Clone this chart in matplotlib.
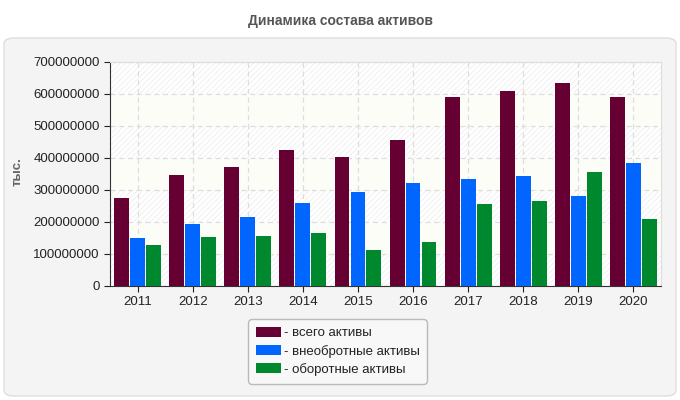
import matplotlib.pyplot as plt
import numpy as np
from matplotlib.patches import FancyBboxPatch, Rectangle

plt.rcParams['font.family'] = ['Liberation Sans', 'DejaVu Sans']
plt.rcParams['hatch.linewidth'] = 0.6

years = ['2011', '2012', '2013', '2014', '2015', '2016', '2017', '2018', '2019', '2020']
total = [275e6, 347e6, 372e6, 425e6, 403e6, 456e6, 590e6, 609e6, 634e6, 590e6]
noncurrent = [150e6, 194e6, 216e6, 259e6, 294e6, 322e6, 334e6, 344e6, 281e6, 384e6]
current = [128e6, 153e6, 156e6, 166e6, 112e6, 137e6, 256e6, 266e6, 356e6, 209e6]
labels = ['- всего активы', '- внеобротные активы', '- оборотные активы']
colors = ['#660033', '#0066ff', '#00882f']

fig = plt.figure(figsize=(6.8, 4.0), dpi=100)
fig.patch.set_facecolor('white')

# outer rounded panel
panel = FancyBboxPatch((4 / 680, 4 / 400), 672 / 680, 358 / 400,
                       boxstyle='round,pad=0,rounding_size=0.015',
                       transform=fig.transFigure, facecolor='#f4f4f4',
                       edgecolor='#dedede', linewidth=1, zorder=-10)
fig.patches.append(panel)

fig.text(0.5, 1 - 21 / 400, 'Динамика состава активов', ha='center', va='center',
         fontsize=10, fontweight='bold', color='#555555')

ax = fig.add_axes([110 / 680, 114 / 400, 551 / 680, 224 / 400])
ax.set_facecolor('white')

x = np.arange(len(years))
w = 0.27
off = 0.29
ax.set_xlim(-0.5, len(years) - 0.5)
ax.set_ylim(0, 700e6)

# alternating background bands
for i in range(7):
    lo = i * 100e6
    if i % 2 == 0:
        ax.add_patch(Rectangle((-0.5, lo), len(years), 100e6, facecolor='white',
                               edgecolor='#eeeeee', hatch='//////', linewidth=0, zorder=0))
    else:
        ax.add_patch(Rectangle((-0.5, lo), len(years), 100e6, facecolor='#fdfdf8',
                               edgecolor='none', linewidth=0, zorder=0))

ax.grid(True, color='#dddddd', linestyle=(0, (4, 3)), linewidth=0.9, zorder=1)
ax.set_axisbelow(True)

for vals, c, o, lab in zip([total, noncurrent, current], colors, [-off, 0, off], labels):
    ax.bar(x + o, vals, width=w, color=c, label=lab, zorder=3)

ax.set_xticks(x)
ax.set_xticklabels(years)
ax.set_yticks(np.arange(0, 700e6 + 1, 100e6))
ax.set_yticklabels([str(int(v)) for v in np.arange(0, 700e6 + 1, 100e6)])
ax.tick_params(axis='both', labelsize=9.5, colors='#222222', length=4, direction='out')
for s in ['left', 'bottom']:
    ax.spines[s].set_color('#333333')
for s in ['top', 'right']:
    ax.spines[s].set_color('#dddddd')

fig.text(18 / 680, 1 - 172 / 400, 'тыс.', rotation=90, ha='center', va='center',
         fontsize=9.5, fontweight='bold', color='#666666')

leg = fig.legend(loc='upper left', bbox_to_anchor=(248 / 680, 1 - 319 / 400),
                 fontsize=9.5, frameon=True, handlelength=1.9, handleheight=0.75,
                 handletextpad=0.2, labelspacing=0.4, borderpad=0.6, borderaxespad=0)
leg.get_frame().set_edgecolor('#aaaaaa')
leg.get_frame().set_facecolor('#fafafa')
leg.get_frame().set_boxstyle('round,pad=0,rounding_size=0.3')
for t in leg.get_texts():
    t.set_color('#222222')

fig.savefig('out.png', dpi=100)
